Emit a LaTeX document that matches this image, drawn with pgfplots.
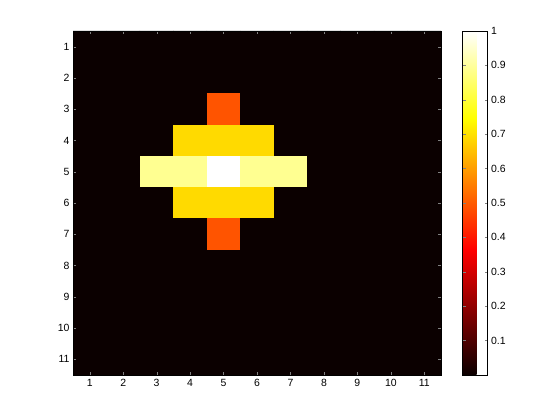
\documentclass[border=0pt]{standalone}
\usepackage{pgfplots}
\pgfplotsset{compat=1.18}
\usepackage{fontspec}
\setmainfont{Liberation Sans}
\definecolor{hotlow}{rgb}{0.0417,0,0}
\begin{document}
\begin{tikzpicture}
\path[use as bounding box] (0,0) rectangle (560bp,420bp);
\begin{axis}[
    at={(73bp,45bp)}, anchor=south west,
    scale only axis, width=368bp, height=344bp,
    xmin=0.5, xmax=11.5, ymin=0.5, ymax=11.5,
    y dir=reverse, enlargelimits=false,
    axis background/.style={fill=hotlow},
    xtick={1,...,11}, ytick={1,...,11},
    tick align=inside, major tick length=3bp,
    tick label style={font=\fontsize{10.5}{12}\selectfont},
    /pgf/number format/assume math mode=true,
    xticklabel style={yshift=-1bp},
    colormap={mhot}{rgb(0)=(0.0417,0,0) rgb(23)=(1,0,0) rgb(47)=(1,1,0) rgb(63)=(1,1,1)},
    point meta min=0, point meta max=1,
    colorbar,
    colorbar style={
        at={(parent axis.north east)}, anchor=north west, xshift=13bp,
        scale only axis, width=25bp, height=344bp,
        ytick={0.1,0.2,0.3,0.4,0.5,0.6,0.7,0.8,0.9,1},
        yticklabel pos=right, ytick pos=both,
        tick align=inside, major tick length=3bp,
        yticklabel style={font=\fontsize{10.5}{12}\selectfont},
        /pgf/number format/assume math mode=true,
        /pgf/number format/fixed,
    },
]
\addplot[matrix plot, shader=faceted, faceted color=mapped color, mesh/cols=11, point meta=explicit] coordinates {
(1,1) [0] (2,1) [0] (3,1) [0] (4,1) [0] (5,1) [0] (6,1) [0] (7,1) [0] (8,1) [0] (9,1) [0] (10,1) [0] (11,1) [0]
(1,2) [0] (2,2) [0] (3,2) [0] (4,2) [0] (5,2) [0] (6,2) [0] (7,2) [0] (8,2) [0] (9,2) [0] (10,2) [0] (11,2) [0]
(1,3) [0] (2,3) [0] (3,3) [0] (4,3) [0] (5,3) [0.49] (6,3) [0] (7,3) [0] (8,3) [0] (9,3) [0] (10,3) [0] (11,3) [0]
(1,4) [0] (2,4) [0] (3,4) [0] (4,4) [0.69] (5,4) [0.69] (6,4) [0.69] (7,4) [0] (8,4) [0] (9,4) [0] (10,4) [0] (11,4) [0]
(1,5) [0] (2,5) [0] (3,5) [0.89] (4,5) [0.89] (5,5) [1] (6,5) [0.89] (7,5) [0.89] (8,5) [0] (9,5) [0] (10,5) [0] (11,5) [0]
(1,6) [0] (2,6) [0] (3,6) [0] (4,6) [0.69] (5,6) [0.69] (6,6) [0.69] (7,6) [0] (8,6) [0] (9,6) [0] (10,6) [0] (11,6) [0]
(1,7) [0] (2,7) [0] (3,7) [0] (4,7) [0] (5,7) [0.49] (6,7) [0] (7,7) [0] (8,7) [0] (9,7) [0] (10,7) [0] (11,7) [0]
(1,8) [0] (2,8) [0] (3,8) [0] (4,8) [0] (5,8) [0] (6,8) [0] (7,8) [0] (8,8) [0] (9,8) [0] (10,8) [0] (11,8) [0]
(1,9) [0] (2,9) [0] (3,9) [0] (4,9) [0] (5,9) [0] (6,9) [0] (7,9) [0] (8,9) [0] (9,9) [0] (10,9) [0] (11,9) [0]
(1,10) [0] (2,10) [0] (3,10) [0] (4,10) [0] (5,10) [0] (6,10) [0] (7,10) [0] (8,10) [0] (9,10) [0] (10,10) [0] (11,10) [0]
(1,11) [0] (2,11) [0] (3,11) [0] (4,11) [0] (5,11) [0] (6,11) [0] (7,11) [0] (8,11) [0] (9,11) [0] (10,11) [0] (11,11) [0]
};
\end{axis}
\end{tikzpicture}
\end{document}
